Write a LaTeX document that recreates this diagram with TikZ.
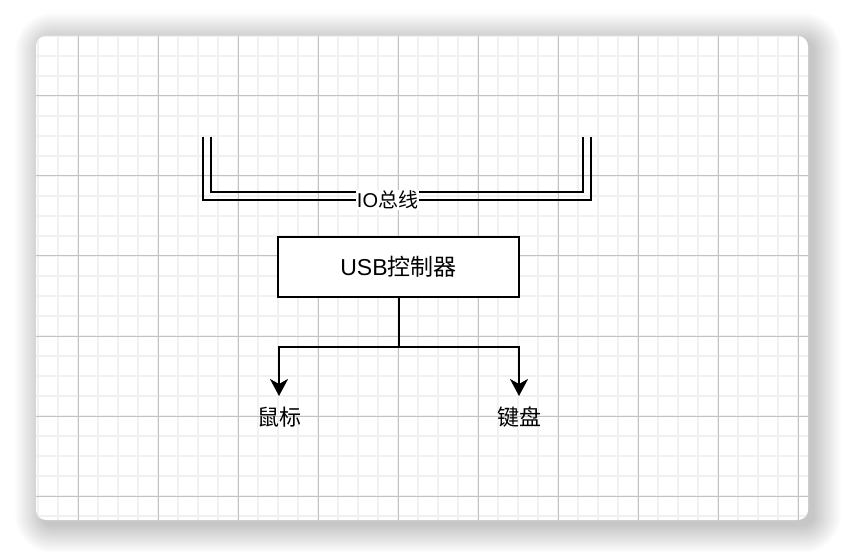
\documentclass[tikz,border=0pt]{standalone}
\usepackage{fontspec}
\setmainfont{Liberation Sans}
\newfontfamily\cjk{Noto Sans CJK SC}
\usetikzlibrary{arrows.meta}
\definecolor{minorgrid}{HTML}{F1F1F1}
\definecolor{majorgrid}{HTML}{C2C2C2}
\begin{document}
\begin{tikzpicture}[x=1pt,y=-1pt,
  minorline/.style={draw=minorgrid,line width=2pt},
  majorline/.style={draw=majorgrid,line width=1pt},
  busline/.style={draw=black,line width=2pt},
  conn/.style={draw=black,line width=2pt,-{Stealth[length=17pt,width=18pt,inset=5pt]}},
  plainconn/.style={draw=black,line width=2pt},
  boxnode/.style={draw=black,line width=2pt,fill=white,minimum width=241pt,minimum height=60pt,inner sep=0pt,font=\fontsize{23}{23}\selectfont},
  lbl/.style={inner sep=0pt,font=\fontsize{22}{22}\selectfont\cjk}]
\fill[white] (0,0) rectangle (844,556);
\useasboundingbox (0,0) rectangle (844,556);
% shadow
\foreach \i [evaluate=\i as \r using 10+\i] in {1,...,28} {
  \fill[black,opacity=0.0075,rounded corners=\r pt] ({43-\i},{41-\i}) rectangle ({813+\i},{525+\i});
}
% card
\fill[white,rounded corners=10pt] (36,36) rectangle (808,520);
\begin{scope}
  \clip[rounded corners=10pt] (36,36) rectangle (808,520);
  \foreach \x in {38,58,...,798} \draw[minorline] (\x,36) -- (\x,520);
  \foreach \y in {36,56,...,516} \draw[minorline] (36,\y) -- (808,\y);
  \foreach \x in {78,158,...,798} \draw[majorline] (\x,36) -- (\x,520);
  \foreach \y in {96,176,...,496} \draw[majorline] (36,\y) -- (808,\y);
\end{scope}
% IO bus
\coordinate (ol) at (203,137);
\coordinate (or) at (591,137);
\coordinate (il) at (211,137);
\coordinate (ir) at (583,137);
\draw[busline] (ol) -- (203,200.5) -- (591,200.5) -- (or);
\draw[busline] (il) -- (211,192.5) -- (583,192.5) -- (ir);
\node[fill=white,inner sep=1pt,font=\fontsize{20}{20}\selectfont] (io) at (387.5,200) {IO{\cjk 总线}};
% USB controller
\node[boxnode] (usb) at (398.5,267) {USB{\cjk 控制器}};
% devices
\node[lbl] (mouse) at (279.5,417) {鼠标};
\node[lbl] (kbd) at (519,417) {键盘};
\coordinate (split) at (398.5,347);
\coordinate (mtip) at (279,396);
\coordinate (ktip) at (519,396);
\draw[plainconn] (usb.south) -- (split);
\draw[conn] (split) -| (mtip);
\draw[conn] (split) -| (ktip);
\end{tikzpicture}
\end{document}
